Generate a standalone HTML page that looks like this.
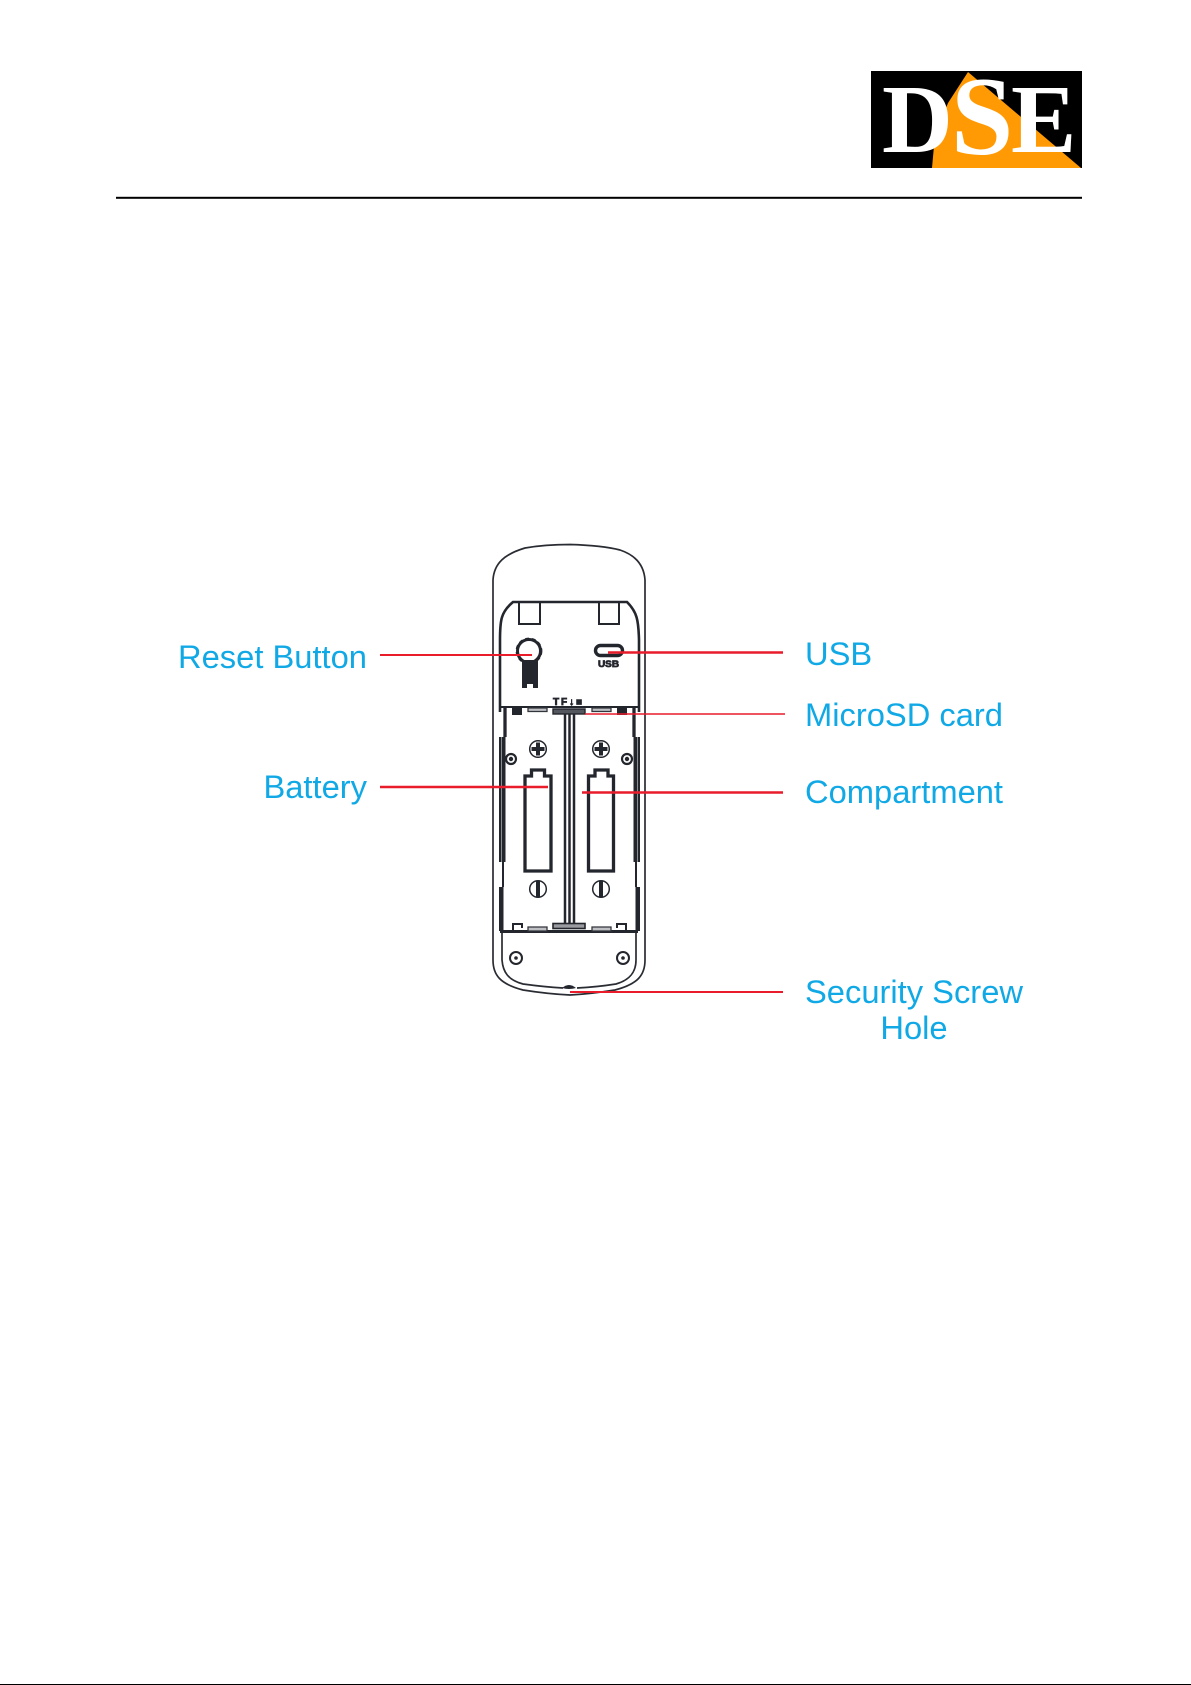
<!DOCTYPE html>
<html><head><meta charset="utf-8"><style>
html,body{margin:0;padding:0;background:#fff;width:1191px;height:1685px;overflow:hidden}
svg{display:block}
.l{font-family:"Liberation Sans",Arial,sans-serif;font-size:32.7px;fill:#10a9e6}
.d{fill:none;stroke:#24262e;stroke-width:2}
.o{fill:none;stroke:#2a2c33;stroke-width:1.7}
.w{fill:none;stroke:#24262e;stroke-width:2.6}
.t{fill:none;stroke:#24262e;stroke-width:3.3}
.r{stroke:#e81c2b;fill:none}
</style></head><body>
<svg width="1191" height="1685" viewBox="0 0 1191 1685" xmlns="http://www.w3.org/2000/svg">
<rect width="1191" height="1685" fill="#fff"/>
<!-- logo -->
<rect x="871" y="71" width="211" height="97" fill="#000"/>
<path d="M968 72 L1081 168 L932 168 L935 135 L948 103 Z" fill="#ff9a05"/>
<g font-family="'Liberation Serif',serif" font-weight="bold" fill="#fff">
<text x="882" y="152" font-size="98">D</text>
<text x="951" y="154" font-size="112">S</text>
<text x="1011" y="152" font-size="98">E</text>
</g>
<rect x="116" y="196.8" width="966" height="2" fill="#000"/>
<rect x="0" y="1684" width="1191" height="1" fill="#000"/>

<!-- device outer -->
<path class="o" d="M493 960 V580 C494 563 505 554 525 548 C542 545 556 544.5 570 544.5 C587 545 605 546 620 550 C635 555 644 565 645 580 V960 C645 975 638 984 615 990 Q590 994 570 995 Q548 994 523 990 C500 984 493 975 493 960Z"/>
<path class="o" d="M502 931 V960 C503 972 508 980 523 984 Q545 987 563 988 M577 988 Q597 987 616 984 C630 980 636 972 636 960 V931"/>
<path d="M562 988 Q569 982 576 988 Q569 990 562 988Z" fill="#24262e"/>
<!-- inner panel -->
<path class="w" d="M500 712 V640 C500 620 501 612 513 602 H627 C637 612 638.5 620 639 640 V712"/>
<path d="M519 602V624H540V602M599 602V624H619V602" class="d"/>
<!-- reset -->
<circle cx="529" cy="651" r="11.5" fill="none" stroke="#24262e" stroke-width="3"/>
<circle cx="529" cy="651" r="12.8" fill="none" stroke="#24262e" stroke-width="1.2" stroke-dasharray="4 3"/>
<path d="M522 660 H538 V688 H533 V684 H527 V688 H522 Z" fill="#24262e"/>
<!-- USB -->
<rect x="595.5" y="645.5" width="27" height="10" rx="5" fill="none" stroke="#24262e" stroke-width="3.4"/>
<text x="598" y="667" textLength="21" lengthAdjust="spacingAndGlyphs" font-family="'Liberation Sans',sans-serif" font-weight="bold" font-size="9.5" fill="#24262e" stroke="#24262e" stroke-width=".8">USB</text>
<text x="553" y="705" textLength="29" lengthAdjust="spacing" font-family="'Liberation Sans',sans-serif" font-weight="bold" font-size="10" fill="#24262e" stroke="#24262e" stroke-width=".8">TF&#8595;&#9632;</text>
<!-- battery tray -->
<path d="M501 707 H638" stroke="#24262e" stroke-width="2"/>
<path class="t" d="M505 708 V737"/>
<path class="t" d="M634 708 V737"/>
<path d="M499 737 H505.5 V862 H499Z M633.5 737 H640 V862 H633.5Z M499 887 H503.5 V931 H499Z M635.5 887 H640 V931 H635.5Z" fill="#24262e"/>
<path d="M501.5 737 V862 M637.5 737 V862" stroke="#8a8c92" stroke-width="1"/>
<path d="M503 862 V887 M636 862 V887" class="d"/>
<path d="M500 931.5 H638" stroke="#24262e" stroke-width="3"/>
<path d="M512 708 H522 V715 H512Z M617 708 H627 V715 H617Z" fill="#24262e"/>
<path d="M528 708 H547 V711.5 H528Z M592 708 H611 V711.5 H592Z M528 927 H547 V931 H528Z M592 927 H611 V931 H592Z" fill="#bfc0c3" stroke="#33353c" stroke-width="1.3"/>
<rect x="553" y="709" width="32" height="5" fill="#55575e" stroke="#24262e" stroke-width="1.4"/>
<rect x="553" y="923.5" width="32" height="5" fill="#9a9ba0" stroke="#24262e" stroke-width="1.6"/>
<path d="M513 930 V924 H522 V928 M626 930 V924 H617 V928" stroke="#24262e" stroke-width="2" fill="none"/>
<!-- center divider -->
<path d="M565 714 V924 M569.5 714 V924 M574 714 V924" stroke="#24262e" stroke-width="2.5" fill="none"/>
<!-- compartments -->
<path class="t" d="M525 871 V776 H531.5 V770 H544.5 V776 H551 V871 Z"/>
<path class="t" d="M588.5 871 V776 H595 V770 H608 V776 H613.5 V871 Z"/>
<!-- screws -->
<g fill="none" stroke="#24262e">
<circle cx="538" cy="749" r="8.3" stroke-width="1.5"/><path d="M538 742.5V755.5M531.5 749H544.5" stroke-width="4"/>
<circle cx="601" cy="749" r="8.3" stroke-width="1.5"/><path d="M601 742.5V755.5M594.5 749H607.5" stroke-width="4"/>
<circle cx="538" cy="889" r="8.3" stroke-width="1.5"/><path d="M538 881V897" stroke-width="4"/>
<circle cx="601" cy="889" r="8.3" stroke-width="1.5"/><path d="M601 881V897" stroke-width="4"/>
<circle cx="511" cy="759" r="5" stroke-width="2.2"/><circle cx="627" cy="759" r="5" stroke-width="2.2"/>
<circle cx="516" cy="958" r="6" stroke-width="2"/><circle cx="623" cy="958" r="6" stroke-width="2"/>
</g>
<circle cx="511" cy="759" r="2.2" fill="#24262e"/><circle cx="627" cy="759" r="2.2" fill="#24262e"/>
<circle cx="516" cy="958" r="1.8" fill="#24262e"/><circle cx="623" cy="958" r="1.8" fill="#24262e"/>
<!-- red leaders -->
<path class="r" stroke-width="2" d="M380 655H532"/>
<path class="r" stroke-width="2.4" d="M608 652.5H783"/>
<path class="r" stroke-width="1.4" d="M585 714H785"/>
<path class="r" stroke-width="2.4" d="M380 787H548"/>
<path class="r" stroke-width="2.4" d="M582 792.5H783"/>
<path class="r" stroke-width="2" d="M570 992H783"/>
<!-- labels -->
<text class="l" x="367" y="668" text-anchor="end">Reset Button</text>
<text class="l" x="367" y="798" text-anchor="end">Battery</text>
<text class="l" x="805" y="665">USB</text>
<text class="l" x="805" y="726">MicroSD card</text>
<text class="l" x="805" y="803">Compartment</text>
<text class="l" x="805" y="1003">Security Screw</text>
<text class="l" x="914" y="1039" text-anchor="middle">Hole</text>
</svg>
</body></html>
